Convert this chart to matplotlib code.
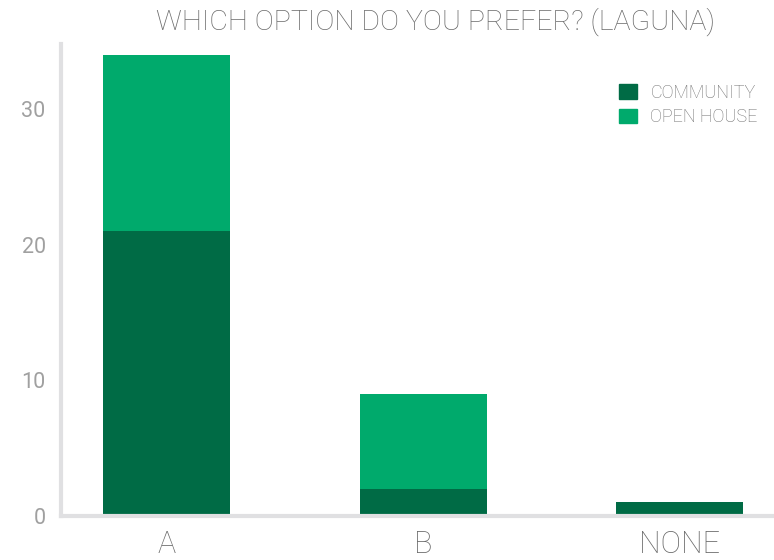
import matplotlib
matplotlib.use("Agg")
import matplotlib.pyplot as plt
from matplotlib.patches import Patch

categories = ["A", "B", "NONE"]
community = [21, 2, 1]
open_house = [13, 7, 0]
series_names = ["COMMUNITY", "OPEN HOUSE"]
yticks = [0, 10, 20, 30]
title = "WHICH OPTION DO YOU PREFER? (LAGUNA)"

c_comm = "#006B45"
c_open = "#00AA6C"
spine_c = "#E0E0E2"
font = ["Roboto", "DejaVu Sans"]

fig = plt.figure(figsize=(7.74, 5.6), dpi=100)
ax = fig.add_axes([61/774, 1-516/560, 1-61/774, (516-44)/560])

x = list(range(len(categories)))
ax.bar(x, community, width=0.495, color=c_comm, zorder=2)
ax.bar(x, open_house, width=0.495, bottom=community, color=c_open, zorder=2)

ax.set_xlim(-0.411, 2.368)
ax.set_ylim(0, 34.8)
ax.set_yticks(yticks)
ax.set_xticks(x)
ax.set_xticklabels(categories, fontfamily=font, fontsize=22, color="#6A6A6A", fontweight="light")
ax.set_yticklabels([str(v) for v in yticks], fontfamily=font, fontsize=15.5, color="#A0A0A0", fontweight="normal")
ax.tick_params(axis="both", length=0)
ax.tick_params(axis="x", pad=10)
ax.tick_params(axis="y", pad=11)

for s in ["top", "right"]:
    ax.spines[s].set_visible(False)
for s in ["left", "bottom"]:
    ax.spines[s].set_color(spine_c)
    ax.spines[s].set_linewidth(3)

fig.text(0.563, 0.961, title, ha="center", va="center", fontfamily=font,
         fontsize=20.5, color="#6A6A6A", fontweight="light")

handles = [Patch(color=c_comm), Patch(color=c_open)]
leg = ax.legend(handles, series_names, loc="upper right", bbox_to_anchor=(1.0, 0.95),
                frameon=False, handlelength=1.0, handleheight=0.85, handletextpad=0.75,
                labelspacing=0.35, prop={"family": font, "size": 13, "weight": "light"})
for t in leg.get_texts():
    t.set_color("#707070")

fig.savefig("out.png", dpi=100)
